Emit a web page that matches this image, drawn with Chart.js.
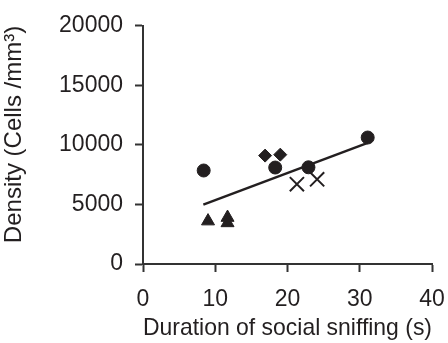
<!DOCTYPE html>
<html>
<head>
<meta charset="utf-8">
<script src="https://cdn.jsdelivr.net/npm/chart.js@4/dist/chart.umd.min.js"></script>
<style>
  html, body { margin: 0; padding: 0; background: #fff; }
  #wrap { width: 448px; height: 343px; }
</style>
</head>
<body>
<div id="wrap"><canvas id="chart" width="448" height="343"></canvas></div>
<script>
// values
const circleX = [8.4, 18.3, 22.9, 31.1];
const circleY = [7850, 8100, 8120, 10620];
const diamondX = [16.9, 19.0];
const diamondY = [9100, 9180];
const triangleX = [9.0, 11.7, 11.7];
const triangleY = [3600, 3450, 3900];
const crossX = [21.3, 24.1];
const crossY = [6700, 7110];
const trendX = [8.35, 31.1];
const trendY = [4980, 10170];

const xTicks = [0, 10, 20, 30, 40];
const yTicks = [0, 5000, 10000, 15000, 20000];

const ink = '#231f20';
const axisCol = '#333333';

function pts(xs, ys) {
  return xs.map((x, i) => ({ x: x, y: ys[i] }));
}

function markerSet(xs, ys, style, radius, extra) {
  return Object.assign({
    data: pts(xs, ys),
    pointStyle: style,
    pointRadius: radius,
    pointHoverRadius: radius,
    backgroundColor: ink,
    borderColor: ink,
    borderWidth: 1,
    showLine: false
  }, extra || {});
}

new Chart(document.getElementById('chart').getContext('2d'), {
  type: 'scatter',
  data: {
    datasets: [
      {
        data: pts(trendX, trendY),
        showLine: true,
        borderColor: ink,
        borderWidth: 2.5,
        pointRadius: 0,
        fill: false
      },
      markerSet(circleX, circleY, 'circle', 6.5),
      markerSet(diamondX, diamondY, 'rectRot', 6.5),
      markerSet(triangleX, triangleY, 'triangle', 7.5),
      markerSet(crossX, crossY, 'crossRot', 10, { borderWidth: 2 })
    ]
  },
  options: {
    responsive: false,
    animation: false,
    layout: { padding: { top: 23, right: 0, bottom: 0, left: 0 } },
    plugins: { legend: { display: false }, tooltip: { enabled: false } },
    scales: {
      x: {
        type: 'linear',
        min: 0,
        max: 40,
        afterBuildTicks: function(scale) {
          scale.ticks = xTicks.map(v => ({ value: v }));
        },
        afterFit: function(scale) {
          scale.height = 79;
          scale.paddingRight = 16;
        },
        grid: {
          display: true,
          drawOnChartArea: false,
          drawTicks: true,
          tickLength: 8,
          tickWidth: 2,
          tickColor: axisCol
        },
        border: { display: true, color: axisCol, width: 2 },
        ticks: {
          color: ink,
          padding: 14,
          font: { family: 'Liberation Sans', size: 23 }
        },
        title: {
          display: true,
          text: 'Duration of social sniffing (s)',
          color: ink,
          font: { family: 'Liberation Sans', size: 24 },
          padding: { top: -4, bottom: 0 }
        }
      },
      y: {
        type: 'linear',
        min: 0,
        max: 20000,
        afterBuildTicks: function(scale) {
          scale.ticks = yTicks.map(v => ({ value: v }));
        },
        afterFit: function(scale) { scale.width = 143; },
        grid: {
          display: true,
          drawOnChartArea: false,
          drawTicks: true,
          tickLength: 8,
          tickWidth: 2,
          tickColor: axisCol
        },
        border: { display: true, color: axisCol, width: 2 },
        ticks: {
          color: ink,
          padding: 12,
          font: { family: 'Liberation Sans', size: 23 },
          callback: function(v) { return String(v); }
        },
        title: {
          display: true,
          text: 'Density (Cells /mm³)',
          align: 'end',
          color: ink,
          font: { family: 'Liberation Sans', size: 24 },
          padding: { top: 0, bottom: 0 }
        }
      }
    }
  }
});
</script>
</body>
</html>
